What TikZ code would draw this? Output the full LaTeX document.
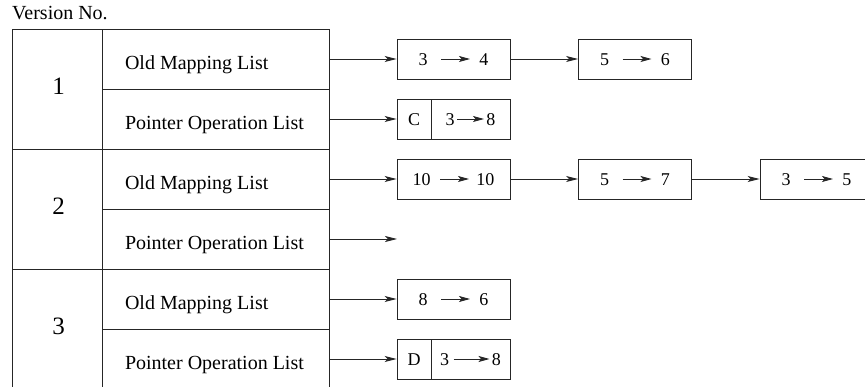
\documentclass[tikz,border=0pt]{standalone}
\usepackage{fontspec}
\setmainfont{Liberation Serif}
\usetikzlibrary{arrows.meta}
\definecolor{linec}{gray}{0.15}
\newcommand{\iarr}[1][29pt]{\tikz[baseline=-7pt]\draw[line width=0.9pt,color=linec,-{Stealth[length=11pt,width=6pt,inset=2.5pt]}] (0pt,0pt)--(#1,0pt);}
\newcommand{\celltext}[1]{\makebox[181pt][l]{#1}}
\tikzset{
  cellbox/.style={draw=linec, line width=0.9pt, inner sep=0pt},
  vercell/.style={cellbox, minimum width=90pt, minimum height=120pt,
    font=\fontsize{25pt}{28pt}\selectfont, text height=16pt, text depth=4pt},
  listcell/.style={cellbox, minimum width=227pt, minimum height=60pt,
    font=\fontsize{20pt}{24pt}\selectfont, text height=25pt, text depth=3pt},
  mapbox/.style={cellbox, minimum width=113pt, minimum height=40pt,
    font=\fontsize{18pt}{22pt}\selectfont, text height=17pt, text depth=3pt},
  tagbox/.style={mapbox, minimum width=34pt},
  valbox/.style={mapbox, minimum width=79pt},
  conn/.style={draw=linec, line width=0.9pt, -{Stealth[length=12pt,width=6pt,inset=3pt]}},
}
\begin{document}
\begin{tikzpicture}[x=1pt,y=-1pt]
\useasboundingbox (0,0) rectangle (865,387);
\node[anchor=base west, inner sep=0pt, font=\fontsize{20pt}{24pt}\selectfont] (title) at (12,20) {Version No.};
% version cells
\node[vercell] (v1) at (57,89) {\kern3pt 1};
\node[vercell] (v2) at (57,209) {\kern3pt 2};
\node[vercell] (v3) at (57,329) {\kern3pt 3};
% list cells
\node[listcell] (o1) at (215.5,59) {\celltext{Old Mapping List}};
\node[listcell] (p1) at (215.5,119) {\celltext{Pointer Operation List}};
\node[listcell] (o2) at (215.5,179) {\celltext{Old Mapping List}};
\node[listcell] (p2) at (215.5,239) {\celltext{Pointer Operation List}};
\node[listcell] (o3) at (215.5,299) {\celltext{Old Mapping List}};
\node[listcell] (p3) at (215.5,359) {\celltext{Pointer Operation List}};
% mapping boxes
\node[mapbox] (b11) at (453.5,59) {3\hspace{13pt}\iarr\hspace{9pt}4};
\node[mapbox] (b12) at (635,59) {5\hspace{13pt}\iarr\hspace{9pt}6};
\node[tagbox] (c1) at (414,119) {C};
\node[valbox] (c1v) at (470.5,119) {3\hspace{2pt}\iarr[27pt]\hspace{2pt}8};
\node[mapbox] (b21) at (453.5,179) {10\hspace{9pt}\iarr\hspace{7pt}10};
\node[mapbox] (b22) at (635,179) {5\hspace{13pt}\iarr\hspace{9pt}7};
\node[mapbox] (b23) at (816.5,179) {3\hspace{13pt}\iarr\hspace{9pt}5};
\node[mapbox] (b31) at (453.5,299) {8\hspace{13pt}\iarr\hspace{9pt}6};
\node[tagbox] (d3) at (414,359) {D};
\node[valbox] (d3v) at (470.5,359) {3\hspace{4pt}\iarr[36pt]\hspace{2pt}8};
\coordinate (p2end) at (397,239);
% connectors
\draw[conn] (o1.east) -- (b11.west);
\draw[conn] (b11.east) -- (b12.west);
\draw[conn] (p1.east) -- (c1.west);
\draw[conn] (o2.east) -- (b21.west);
\draw[conn] (b21.east) -- (b22.west);
\draw[conn] (b22.east) -- (b23.west);
\draw[conn] (p2.east) -- (p2end);
\draw[conn] (o3.east) -- (b31.west);
\draw[conn] (p3.east) -- (d3.west);
\end{tikzpicture}
\end{document}
